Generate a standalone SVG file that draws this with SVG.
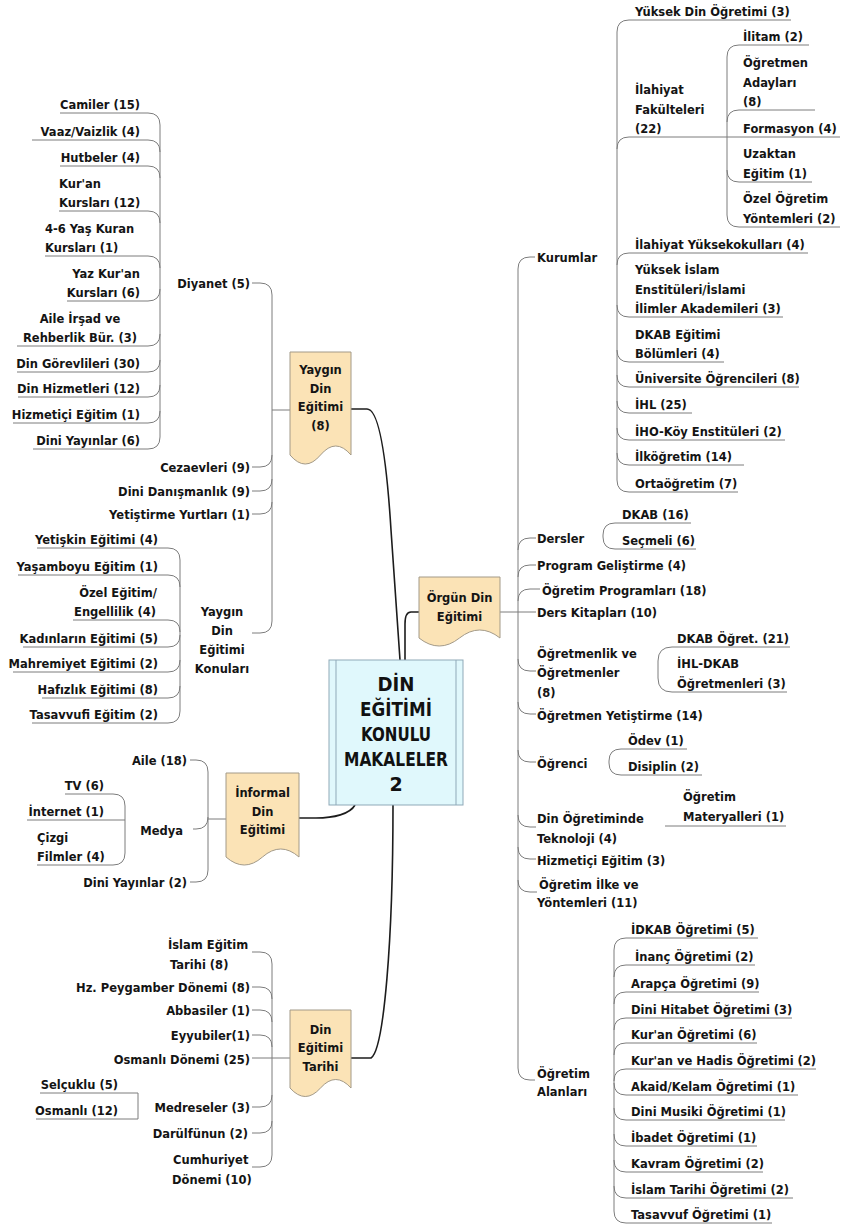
<svg xmlns="http://www.w3.org/2000/svg" width="841" height="1227" viewBox="0 0 841 1227">
<style>
.t{font-family:"DejaVu Sans","Liberation Sans",sans-serif;font-weight:bold;font-size:11.5px;fill:#141414}
.e{text-anchor:end}
.m{text-anchor:middle}
.big{font-family:"DejaVu Sans","Liberation Sans",sans-serif;font-weight:bold;font-size:19px;fill:#111;text-anchor:middle}
.c{fill:none;stroke:#7d7d7d;stroke-width:1}
.k{fill:none;stroke:#1c1c1c;stroke-width:1.6}
.doc{fill:#fbe3b6;stroke:#a39a88;stroke-width:1}
.ctr{fill:#e0f8fc;stroke:#8fa9b8;stroke-width:1}
</style>
<rect width="841" height="1227" fill="#ffffff"/>
<g id="connectors">
<path class="k" d="M351,409 H367 C378,409 386,450 391,530 C395,590 399,640 400,660"/>
<path class="k" d="M419,612 H411 Q405,612 405,624 V660"/>
<path class="k" d="M299,818 H316 C334,818 350,814 355,805"/>
<path class="k" d="M351,1058 H371 C384,1050 393,940 393,805"/>
<!-- right level 2 -->
<path class="c" d="M518,269 V1068"/>
<path class="c" d="M518,269 Q518,257 530,257 H535"/>
<path class="c" d="M518,550 Q518,538 530,538 H536"/>
<path class="c" d="M518,577 Q518,565 530,565 H536"/>
<path class="c" d="M518,601 Q518,589 530,589 H540"/>
<path class="c" d="M500,612 H536"/>
<path class="c" d="M518,659 Q518,671 530,671 H536"/>
<path class="c" d="M518,702 Q518,714 530,714 H536"/>
<path class="c" d="M518,750 Q518,762 530,762 H536"/>
<path class="c" d="M518,815 Q518,827 530,827 H536"/>
<path class="c" d="M518,847 Q518,859 530,859 H536"/>
<path class="c" d="M518,880 Q518,892 530,892 H537"/>
<path class="c" d="M518,1068 Q518,1080 530,1080 H535"/>
<!-- Kurumlar -->
<path class="c" d="M617,32 V480"/>
<path class="c" d="M617,32 Q617,20 629,20 H791"/>
<path class="c" d="M617,149 Q617,137 629,137 H840"/>
<path class="c" d="M617,265 Q617,253 629,253 H808"/>
<path class="c" d="M617,305 Q617,317 629,317 H783"/>
<path class="c" d="M617,350 Q617,362 629,362 H724"/>
<path class="c" d="M617,375 Q617,387 629,387 H799"/>
<path class="c" d="M617,401 Q617,413 629,413 H692"/>
<path class="c" d="M617,428 Q617,440 629,440 H785"/>
<path class="c" d="M617,453 Q617,465 629,465 H744"/>
<path class="c" d="M617,480 Q617,492 629,492 H738"/>
<!-- Ilahiyat -->
<path class="c" d="M727,57 V215"/>
<path class="c" d="M727,57 Q727,45 739,45 H809"/>
<path class="c" d="M727,122 Q727,110 739,110 H815"/>
<path class="c" d="M727,170 Q727,182 739,182 H812"/>
<path class="c" d="M727,215 Q727,227 739,227 H840"/>
<!-- Dersler / Ogretmenlik / Ogrenci / Teknoloji -->
<path class="c" d="M691,523 H615 Q603,523 603,535 V537 Q603,549 615,549 H696"/>
<path class="c" d="M790,647 H672 Q658,647 658,661 V678 Q658,692 672,692 H787"/>
<path class="c" d="M687,749 H621 Q609,749 609,761 V763 Q609,775 621,775 H702"/>
<path class="c" d="M665,826 H786"/>
<!-- Ogretim Alanlari -->
<path class="c" d="M614,950 V1211"/>
<path class="c" d="M614,950 Q614,938 626,938 H758"/>
<path class="c" d="M614,977 Q614,965 626,965 H755"/>
<path class="c" d="M614,1004 Q614,992 626,992 H759"/>
<path class="c" d="M614,1030 Q614,1018 626,1018 H792"/>
<path class="c" d="M614,1055 Q614,1043 626,1043 H757"/>
<path class="c" d="M614,1081 Q614,1069 626,1069 H816"/>
<path class="c" d="M614,1083 Q614,1095 626,1095 H798"/>
<path class="c" d="M614,1108 Q614,1120 626,1120 H785"/>
<path class="c" d="M614,1134 Q614,1146 626,1146 H757"/>
<path class="c" d="M614,1160 Q614,1172 626,1172 H763"/>
<path class="c" d="M614,1186 Q614,1198 626,1198 H793"/>
<path class="c" d="M614,1211 Q614,1223 626,1223 H772"/>
<!-- Yaygin -->
<path class="c" d="M290,410 H272"/>
<path class="c" d="M272,295 V621"/>
<path class="c" d="M252,283 H260 Q272,283 272,295"/>
<path class="c" d="M252,467 H260 Q272,467 272,455"/>
<path class="c" d="M252,491 H260 Q272,491 272,479"/>
<path class="c" d="M252,514 H260 Q272,514 272,502"/>
<path class="c" d="M252,633 H260 Q272,633 272,621"/>
<!-- Diyanet -->
<path class="c" d="M160,125 V437"/>
<path class="c" d="M60,113 H148 Q160,113 160,125"/>
<path class="c" d="M32,140 H148 Q160,140 160,152"/>
<path class="c" d="M60,166 H148 Q160,166 160,178"/>
<path class="c" d="M59,211 H148 Q160,211 160,223"/>
<path class="c" d="M45,256 H148 Q160,256 160,268"/>
<path class="c" d="M67,301 H148 Q160,301 160,289"/>
<path class="c" d="M17,346 H148 Q160,346 160,334"/>
<path class="c" d="M17,372 H148 Q160,372 160,360"/>
<path class="c" d="M18,397 H148 Q160,397 160,385"/>
<path class="c" d="M13,423 H148 Q160,423 160,411"/>
<path class="c" d="M33,449 H148 Q160,449 160,437"/>
<!-- Konulari -->
<path class="c" d="M180,560 V711"/>
<path class="c" d="M37,548 H168 Q180,548 180,560"/>
<path class="c" d="M18,575 H168 Q180,575 180,587"/>
<path class="c" d="M73,620 H168 Q180,620 180,632"/>
<path class="c" d="M23,647 H168 Q180,647 180,635"/>
<path class="c" d="M13,672 H168 Q180,672 180,660"/>
<path class="c" d="M42,698 H168 Q180,698 180,686"/>
<path class="c" d="M32,723 H168 Q180,723 180,711"/>
<!-- Informal -->
<path class="c" d="M226,819 H208"/>
<path class="c" d="M208,772 V870"/>
<path class="c" d="M190,760 H196 Q208,760 208,772"/>
<path class="c" d="M193,829 H196 Q208,829 208,817"/>
<path class="c" d="M190,882 H196 Q208,882 208,870"/>
<path class="c" d="M65,794 H113 Q125,794 125,806 V853 Q125,865 113,865 H37"/>
<path class="c" d="M27,820 H125"/>
<!-- Tarihi -->
<path class="c" d="M290,1058 H252"/>
<path class="c" d="M272,964 V1155"/>
<path class="c" d="M252,952 H260 Q272,952 272,964"/>
<path class="c" d="M252,987 H260 Q272,987 272,999"/>
<path class="c" d="M252,1010 H260 Q272,1010 272,1022"/>
<path class="c" d="M252,1035 H260 Q272,1035 272,1047"/>
<path class="c" d="M252,1107 H260 Q272,1107 272,1095"/>
<path class="c" d="M252,1133 H260 Q272,1133 272,1121"/>
<path class="c" d="M252,1167 H260 Q272,1167 272,1155"/>
<path class="c" d="M40,1093 H138 V1119 H36"/>
</g>

<g id="center">
<rect class="ctr" x="329" y="660" width="134" height="145"/>
<line x1="336" y1="660" x2="336" y2="805" stroke="#8fa9b8"/>
<line x1="456" y1="660" x2="456" y2="805" stroke="#8fa9b8"/>
<text class="big" x="396" y="691" textLength="37" lengthAdjust="spacingAndGlyphs">DİN</text>
<text class="big" x="396" y="716" textLength="72" lengthAdjust="spacingAndGlyphs">EĞİTİMİ</text>
<text class="big" x="396" y="741" textLength="70" lengthAdjust="spacingAndGlyphs">KONULU</text>
<text class="big" x="396" y="766" textLength="104" lengthAdjust="spacingAndGlyphs">MAKALELER</text>
<text class="big" x="396" y="791">2</text>
</g>

<g id="yaygin">
<path class="doc" d="M290,352 H351 V455 Q335.75,437 320.5,455 Q305.25,473 290,455 Z"/>
<text class="t m" x="320.5" y="374">Yaygın</text>
<text class="t m" x="320.5" y="393">Din</text>
<text class="t m" x="320.5" y="411">Eğitimi</text>
<text class="t m" x="320.5" y="430">(8)</text>
</g>
<g id="orgun">
<path class="doc" d="M419,577 H500 V638 Q479.75,622 459.5,638 Q439.25,654 419,638 Z"/>
<text class="t m" x="459.5" y="602">Örgün Din</text>
<text class="t m" x="459.5" y="621">Eğitimi</text>
</g>
<g id="informal">
<path class="doc" d="M226,773 H299 V857 Q280.75,841 262.5,857 Q244.25,873 226,857 Z"/>
<text class="t m" x="262.5" y="797">İnformal</text>
<text class="t m" x="262.5" y="816">Din</text>
<text class="t m" x="262.5" y="834">Eğitimi</text>
</g>
<g id="tarihi">
<path class="doc" d="M290,1010 H351 V1088 Q335.75,1071 320.5,1088 Q305.25,1105 290,1088 Z"/>
<text class="t m" x="320.5" y="1034">Din</text>
<text class="t m" x="320.5" y="1052">Eğitimi</text>
<text class="t m" x="320.5" y="1071">Tarihi</text>
</g>

<!-- right level 2 -->
<g id="kurumlar"><text class="t" x="537" y="262">Kurumlar</text></g>
<g id="dersler"><text class="t" x="537" y="543">Dersler</text></g>
<g id="program"><text class="t" x="537" y="570">Program Geliştirme (4)</text></g>
<g id="ogrprog"><text class="t" x="542" y="595">Öğretim Programları (18)</text></g>
<g id="derskitap"><text class="t" x="537" y="617">Ders Kitapları (10)</text></g>
<g id="ogretmenlik"><text class="t" x="537" y="658">Öğretmenlik ve</text><text class="t" x="537" y="677">Öğretmenler</text><text class="t" x="537" y="697">(8)</text></g>
<g id="yetistirme"><text class="t" x="537" y="720">Öğretmen Yetiştirme (14)</text></g>
<g id="ogrenci"><text class="t" x="537" y="768">Öğrenci</text></g>
<g id="teknoloji"><text class="t" x="537" y="823">Din Öğretiminde</text><text class="t" x="537" y="843">Teknoloji (4)</text></g>
<g id="hizmetici-r"><text class="t" x="537" y="865">Hizmetiçi Eğitim (3)</text></g>
<g id="ilke"><text class="t" x="539" y="889">Öğretim İlke ve</text><text class="t" x="537" y="907">Yöntemleri (11)</text></g>
<g id="alanlari"><text class="t" x="537" y="1078">Öğretim</text><text class="t" x="537" y="1096">Alanları</text></g>

<!-- Kurumlar children -->
<g id="yuksekdin"><text class="t" x="635" y="16">Yüksek Din Öğretimi (3)</text></g>
<g id="ilahiyatfak"><text class="t" x="635" y="94">İlahiyat</text><text class="t" x="635" y="114">Fakülteleri</text><text class="t" x="635" y="133">(22)</text></g>
<g id="ilitam"><text class="t" x="743" y="41">İlitam (2)</text></g>
<g id="adaylari"><text class="t" x="743" y="67">Öğretmen</text><text class="t" x="743" y="87">Adayları</text><text class="t" x="743" y="106">(8)</text></g>
<g id="formasyon"><text class="t" x="743" y="133">Formasyon (4)</text></g>
<g id="uzaktan"><text class="t" x="743" y="158">Uzaktan</text><text class="t" x="743" y="178">Eğitim (1)</text></g>
<g id="ozelogretim"><text class="t" x="743" y="203">Özel Öğretim</text><text class="t" x="743" y="223">Yöntemleri (2)</text></g>
<g id="yuksekokul"><text class="t" x="635" y="249">İlahiyat Yüksekokulları (4)</text></g>
<g id="yuksekislam"><text class="t" x="635" y="274">Yüksek İslam</text><text class="t" x="635" y="294">Enstitüleri/İslami</text><text class="t" x="635" y="313">İlimler Akademileri (3)</text></g>
<g id="dkabbolum"><text class="t" x="635" y="339">DKAB Eğitimi</text><text class="t" x="635" y="358">Bölümleri (4)</text></g>
<g id="universite"><text class="t" x="635" y="383">Üniversite Öğrencileri (8)</text></g>
<g id="ihl"><text class="t" x="635" y="409">İHL (25)</text></g>
<g id="iho"><text class="t" x="635" y="436">İHO-Köy Enstitüleri (2)</text></g>
<g id="ilkogretim"><text class="t" x="635" y="461">İlköğretim (14)</text></g>
<g id="ortaogretim"><text class="t" x="635" y="488">Ortaöğretim (7)</text></g>

<g id="dkab16"><text class="t" x="622" y="519">DKAB (16)</text></g>
<g id="secmeli"><text class="t" x="622" y="545">Seçmeli (6)</text></g>
<g id="dkabogret"><text class="t" x="677" y="643">DKAB Öğret. (21)</text></g>
<g id="ihldkab"><text class="t" x="677" y="668">İHL-DKAB</text><text class="t" x="677" y="688">Öğretmenleri (3)</text></g>
<g id="odev"><text class="t" x="628" y="745">Ödev (1)</text></g>
<g id="disiplin"><text class="t" x="628" y="771">Disiplin (2)</text></g>
<g id="materyal"><text class="t" x="683" y="801">Öğretim</text><text class="t" x="683" y="821">Materyalleri (1)</text></g>

<g id="idkab"><text class="t" x="631" y="934">İDKAB Öğretimi (5)</text></g>
<g id="inanc"><text class="t" x="635" y="961">İnanç Öğretimi (2)</text></g>
<g id="arapca"><text class="t" x="631" y="988">Arapça Öğretimi (9)</text></g>
<g id="hitabet"><text class="t" x="631" y="1014">Dini Hitabet Öğretimi (3)</text></g>
<g id="kuran"><text class="t" x="631" y="1039">Kur'an Öğretimi (6)</text></g>
<g id="hadis"><text class="t" x="631" y="1065">Kur'an ve Hadis Öğretimi (2)</text></g>
<g id="akaid"><text class="t" x="631" y="1091">Akaid/Kelam Öğretimi (1)</text></g>
<g id="musiki"><text class="t" x="631" y="1116">Dini Musiki Öğretimi (1)</text></g>
<g id="ibadet"><text class="t" x="631" y="1142">İbadet Öğretimi (1)</text></g>
<g id="kavram"><text class="t" x="631" y="1168">Kavram Öğretimi (2)</text></g>
<g id="islamtarihi"><text class="t" x="631" y="1194">İslam Tarihi Öğretimi (2)</text></g>
<g id="tasavvuf"><text class="t" x="631" y="1219">Tasavvuf Öğretimi (1)</text></g>

<!-- left: Yaygin children -->
<g id="diyanet"><text class="t e" x="250" y="288">Diyanet (5)</text></g>
<g id="cezaevleri"><text class="t e" x="250" y="472">Cezaevleri (9)</text></g>
<g id="danismanlik"><text class="t e" x="250" y="496">Dini Danışmanlık (9)</text></g>
<g id="yurtlari"><text class="t e" x="250" y="519">Yetiştirme Yurtları (1)</text></g>
<g id="konulari"><text class="t m" x="222" y="616">Yaygın</text><text class="t m" x="222" y="635">Din</text><text class="t m" x="222" y="654">Eğitimi</text><text class="t m" x="222" y="673">Konuları</text></g>

<g id="camiler"><text class="t e" x="140" y="109">Camiler (15)</text></g>
<g id="vaaz"><text class="t e" x="140" y="136">Vaaz/Vaizlik (4)</text></g>
<g id="hutbeler"><text class="t e" x="140" y="162">Hutbeler (4)</text></g>
<g id="kurankurs"><text class="t" x="59" y="188">Kur'an</text><text class="t" x="59" y="207">Kursları (12)</text></g>
<g id="yas46"><text class="t" x="45" y="233">4-6 Yaş Kuran</text><text class="t" x="45" y="252">Kursları (1)</text></g>
<g id="yazkuran"><text class="t e" x="140" y="278">Yaz Kur'an</text><text class="t e" x="140" y="297">Kursları (6)</text></g>
<g id="aileirsad"><text class="t m" x="80" y="323">Aile İrşad ve</text><text class="t m" x="80" y="342">Rehberlik Bür. (3)</text></g>
<g id="gorevli"><text class="t e" x="140" y="368">Din Görevlileri (30)</text></g>
<g id="hizmetleri"><text class="t e" x="140" y="393">Din Hizmetleri (12)</text></g>
<g id="hizmetici-l"><text class="t e" x="140" y="419">Hizmetiçi Eğitim (1)</text></g>
<g id="diniyayin6"><text class="t e" x="140" y="445">Dini Yayınlar (6)</text></g>

<g id="yetiskin"><text class="t e" x="158" y="544">Yetişkin Eğitimi (4)</text></g>
<g id="yasamboyu"><text class="t e" x="158" y="571">Yaşamboyu Eğitim (1)</text></g>
<g id="ozelegitim"><text class="t e" x="157" y="597">Özel Eğitim/</text><text class="t e" x="156" y="616">Engellilik (4)</text></g>
<g id="kadinlar"><text class="t e" x="158" y="643">Kadınların Eğitimi (5)</text></g>
<g id="mahremiyet"><text class="t e" x="158" y="668">Mahremiyet Eğitimi (2)</text></g>
<g id="hafizlik"><text class="t e" x="158" y="694">Hafızlık Eğitimi (8)</text></g>
<g id="tasavvufi"><text class="t e" x="158" y="719">Tasavvufi Eğitim (2)</text></g>

<g id="aile"><text class="t e" x="187" y="765">Aile (18)</text></g>
<g id="medya"><text class="t e" x="183" y="835">Medya</text></g>
<g id="diniyayin2"><text class="t e" x="187" y="887">Dini Yayınlar (2)</text></g>
<g id="tv"><text class="t e" x="104" y="790">TV (6)</text></g>
<g id="internet"><text class="t e" x="104" y="816">İnternet (1)</text></g>
<g id="cizgi"><text class="t" x="37" y="842">Çizgi</text><text class="t" x="37" y="861">Filmler (4)</text></g>

<g id="islamegitim"><text class="t" x="168" y="949">İslam Eğitim</text><text class="t" x="170" y="969">Tarihi (8)</text></g>
<g id="peygamber"><text class="t e" x="250" y="992">Hz. Peygamber Dönemi (8)</text></g>
<g id="abbasiler"><text class="t e" x="250" y="1015">Abbasiler (1)</text></g>
<g id="eyyubiler"><text class="t e" x="250" y="1040">Eyyubiler(1)</text></g>
<g id="osmanlidonemi"><text class="t e" x="250" y="1064">Osmanlı Dönemi (25)</text></g>
<g id="medreseler"><text class="t e" x="250" y="1112">Medreseler (3)</text></g>
<g id="darulfunun"><text class="t e" x="248" y="1138">Darülfünun (2)</text></g>
<g id="cumhuriyet"><text class="t" x="173" y="1164">Cumhuriyet</text><text class="t" x="172" y="1184">Dönemi (10)</text></g>
<g id="selcuklu"><text class="t e" x="118" y="1089">Selçuklu (5)</text></g>
<g id="osmanli12"><text class="t e" x="118" y="1115">Osmanlı (12)</text></g>
</svg>
